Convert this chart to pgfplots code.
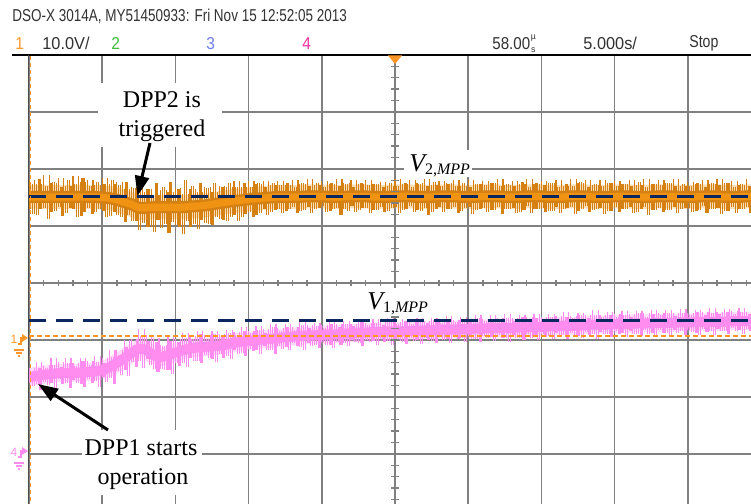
\documentclass[border=0pt]{standalone}
\usepackage{fontspec}
\setmainfont{Liberation Serif}
\newfontfamily\scopefont{Liberation Sans}
\usepackage{pgfplots}
\pgfplotsset{compat=1.18}
\usepackage{pgfplotstable}
\usetikzlibrary{arrows.meta}

\definecolor{chone}{RGB}{240,146,18}
\definecolor{chonedark}{RGB}{212,128,18}
\definecolor{chfour}{RGB}{255,140,238}
\definecolor{mppblue}{RGB}{10,40,95}
\definecolor{gridgray}{RGB}{128,128,128}
\definecolor{hdrgray}{RGB}{50,50,50}
\definecolor{ctwo}{RGB}{60,190,60}
\definecolor{cthree}{RGB}{110,125,235}
\definecolor{cfour}{RGB}{240,50,160}
\definecolor{trigorange}{RGB}{255,150,40}

% channel 1 (V2): time [s], trace centre [div], spike reach above / below [div]
\pgfplotstableread{
t c up dn
-25.0 1.51 0.30 0.22
-24.5 1.51 0.22 0.31
-24.0 1.51 0.38 0.19
-23.5 1.51 0.24 0.27
-23.0 1.51 0.33 0.18
-22.5 1.51 0.20 0.29
-22.0 1.51 0.36 0.22
-21.5 1.51 0.26 0.33
-21.0 1.51 0.30 0.20
-20.5 1.51 0.21 0.27
-20.0 1.50 0.34 0.24
-19.5 1.49 0.25 0.31
-19.0 1.46 0.31 0.26
-18.5 1.42 0.23 0.35
-18.0 1.38 0.30 0.29
-17.5 1.32 0.27 0.39
-17.0 1.32 0.33 0.33
-16.5 1.33 0.22 0.43
-16.0 1.33 0.30 0.36
-15.5 1.33 0.26 0.45
-15.0 1.33 0.34 0.32
-14.5 1.33 0.24 0.47
-14.0 1.34 0.31 0.36
-13.5 1.35 0.25 0.41
-13.0 1.36 0.33 0.30
-12.5 1.38 0.22 0.37
-12.0 1.40 0.30 0.28
-11.5 1.42 0.26 0.34
-11.0 1.44 0.35 0.25
-10.5 1.45 0.24 0.30
-10.0 1.47 0.32 0.22
-9.5 1.48 0.26 0.28
-9.0 1.49 0.30 0.20
-8.5 1.50 0.22 0.26
-8.0 1.51 0.28 0.21
-7.5 1.51 0.21 0.25
-7.0 1.51 0.29 0.18
-6.5 1.51 0.23 0.24
-6.0 1.52 0.30 0.19
-5.5 1.52 0.20 0.23
-5.0 1.52 0.27 0.17
-4.5 1.51 0.22 0.25
-4.0 1.51 0.31 0.19
-3.5 1.51 0.24 0.22
-3.0 1.52 0.28 0.17
-2.5 1.52 0.21 0.24
-2.0 1.52 0.29 0.20
-1.5 1.51 0.23 0.23
-1.0 1.51 0.27 0.18
-0.5 1.51 0.20 0.25
0.0 1.52 0.30 0.19
0.5 1.52 0.22 0.24
1.0 1.52 0.28 0.17
1.5 1.51 0.24 0.23
2.0 1.51 0.31 0.20
2.5 1.51 0.21 0.26
3.0 1.52 0.27 0.18
3.5 1.52 0.23 0.22
4.0 1.52 0.29 0.19
4.5 1.51 0.20 0.25
5.0 1.51 0.30 0.17
5.5 1.51 0.22 0.23
6.0 1.52 0.27 0.20
6.5 1.52 0.24 0.24
7.0 1.52 0.31 0.18
7.5 1.51 0.21 0.22
8.0 1.51 0.28 0.19
8.5 1.51 0.23 0.26
9.0 1.52 0.30 0.17
9.5 1.52 0.22 0.23
10.0 1.52 0.27 0.20
10.5 1.51 0.24 0.24
11.0 1.51 0.29 0.18
11.5 1.51 0.20 0.22
12.0 1.52 0.31 0.19
12.5 1.52 0.23 0.25
13.0 1.52 0.28 0.17
13.5 1.51 0.21 0.23
14.0 1.51 0.30 0.20
14.5 1.51 0.24 0.24
15.0 1.52 0.27 0.18
15.5 1.52 0.22 0.22
16.0 1.52 0.29 0.19
16.5 1.51 0.21 0.26
17.0 1.51 0.31 0.17
17.5 1.51 0.23 0.23
18.0 1.52 0.28 0.20
18.5 1.52 0.24 0.24
19.0 1.52 0.30 0.18
19.5 1.51 0.20 0.22
20.0 1.51 0.27 0.19
20.5 1.51 0.23 0.25
21.0 1.52 0.29 0.17
21.5 1.52 0.22 0.23
22.0 1.52 0.31 0.20
22.5 1.51 0.24 0.24
23.0 1.51 0.28 0.18
23.5 1.51 0.21 0.22
24.0 1.52 0.30 0.19
24.5 1.52 0.23 0.25
25.0 1.52 0.27 0.20
}\chonedata

% channel 4 (V1): time [s], trace centre [div], spike reach above / below [div]
\pgfplotstableread{
t c up dn
-25.0 -1.65 0.16 0.10
-24.5 -1.63 0.24 0.14
-24.0 -1.61 0.18 0.12
-23.5 -1.60 0.28 0.16
-23.0 -1.58 0.20 0.11
-22.5 -1.58 0.26 0.18
-22.0 -1.58 0.17 0.12
-21.5 -1.57 0.25 0.20
-21.0 -1.56 0.19 0.13
-20.5 -1.55 0.27 0.17
-20.0 -1.53 0.21 0.12
-19.5 -1.48 0.30 0.18
-19.0 -1.40 0.22 0.14
-18.5 -1.32 0.32 0.20
-18.0 -1.23 0.24 0.15
-17.5 -1.15 0.34 0.22
-17.0 -1.17 0.26 0.16
-16.5 -1.27 0.30 0.24
-16.0 -1.30 0.22 0.20
-15.5 -1.27 0.32 0.26
-15.0 -1.22 0.24 0.18
-14.5 -1.18 0.30 0.22
-14.0 -1.15 0.22 0.16
-13.5 -1.13 0.28 0.24
-13.0 -1.12 0.20 0.14
-12.5 -1.11 0.27 0.22
-12.0 -1.10 0.21 0.15
-11.5 -1.08 0.26 0.20
-11.0 -1.05 0.19 0.13
-10.5 -1.03 0.25 0.19
-10.0 -1.02 0.18 0.14
-9.5 -1.00 0.24 0.18
-9.0 -0.99 0.19 0.12
-8.5 -0.98 0.26 0.20
-8.0 -0.97 0.18 0.13
-7.5 -0.95 0.23 0.17
-7.0 -0.94 0.17 0.12
-6.5 -0.93 0.24 0.19
-6.0 -0.92 0.18 0.13
-5.5 -0.92 0.22 0.16
-5.0 -0.91 0.17 0.12
-4.5 -0.90 0.24 0.18
-4.0 -0.90 0.18 0.13
-3.5 -0.89 0.22 0.17
-3.0 -0.88 0.16 0.12
-2.5 -0.87 0.23 0.18
-2.0 -0.87 0.17 0.13
-1.5 -0.86 0.22 0.16
-1.0 -0.86 0.18 0.12
-0.5 -0.85 0.24 0.17
0.0 -0.85 0.17 0.13
0.5 -0.85 0.22 0.18
1.0 -0.84 0.18 0.12
1.5 -0.84 0.23 0.16
2.0 -0.83 0.17 0.13
2.5 -0.83 0.22 0.18
3.0 -0.82 0.18 0.12
3.5 -0.82 0.24 0.17
4.0 -0.82 0.17 0.13
4.5 -0.81 0.22 0.16
5.0 -0.81 0.18 0.12
5.5 -0.80 0.23 0.18
6.0 -0.80 0.17 0.13
6.5 -0.79 0.22 0.16
7.0 -0.79 0.18 0.12
7.5 -0.79 0.24 0.17
8.0 -0.79 0.17 0.13
8.5 -0.78 0.22 0.18
9.0 -0.78 0.18 0.12
9.5 -0.77 0.23 0.16
10.0 -0.77 0.17 0.13
10.5 -0.76 0.22 0.17
11.0 -0.76 0.18 0.12
11.5 -0.75 0.24 0.16
12.0 -0.75 0.17 0.13
12.5 -0.75 0.22 0.18
13.0 -0.74 0.18 0.12
13.5 -0.73 0.26 0.16
14.0 -0.73 0.17 0.13
14.5 -0.73 0.22 0.17
15.0 -0.72 0.18 0.12
15.5 -0.72 0.23 0.16
16.0 -0.72 0.17 0.13
16.5 -0.71 0.22 0.18
17.0 -0.71 0.18 0.12
17.5 -0.71 0.24 0.16
18.0 -0.70 0.17 0.13
18.5 -0.70 0.22 0.17
19.0 -0.70 0.18 0.12
19.5 -0.69 0.23 0.16
20.0 -0.69 0.17 0.13
20.5 -0.69 0.22 0.18
21.0 -0.68 0.18 0.12
21.5 -0.68 0.24 0.16
22.0 -0.68 0.17 0.13
22.5 -0.68 0.22 0.17
23.0 -0.67 0.18 0.12
23.5 -0.67 0.23 0.16
24.0 -0.67 0.17 0.13
24.5 -0.67 0.22 0.18
25.0 -0.67 0.18 0.12
}\chfourdata

% noise spikes drawn as vertical bars around the trace centre
\pgfplotsset{
  spikes/.style={draw=none, mark=none, color=#1,
    error bars/.cd, y dir=both, y explicit, error mark=none,
    error bar style={draw=#1, line width=0.6pt}},
}

\begin{document}
\begin{tikzpicture}
\fill[white] (0,0) rectangle (375.5pt,252pt);

\begin{axis}[
  at={(14.5pt,-3.5pt)}, anchor=south west,
  width=366pt, height=228pt, scale only axis,
  xmin=-25, xmax=25, ymin=-4, ymax=4,
  xtick={-25,-20,...,25}, ytick={-4,-3,...,4},
  xticklabels={}, yticklabels={}, major tick length=0pt,
  grid=major, grid style={gridgray, line width=0.8pt},
  axis line style={draw=none},
]
% channel 4 trace: haze, noise spikes, dense core
\addplot[chfour, mark=none, opacity=0.3, line width=9pt, line join=round] table[x=t, y=c] {\chfourdata};
\addplot[spikes=chfour] table[x=t, y=c, y error plus=up, y error minus=dn] {\chfourdata};
\addplot[spikes=chfour] table[x expr=\thisrow{t}+0.25, y=c, y error plus=dn, y error minus=up] {\chfourdata};
\addplot[spikes=chfour] table[x expr=\thisrow{t}+0.125, y=c, y error plus=dn, y error minus=dn] {\chfourdata};
\addplot[spikes=chfour] table[x expr=\thisrow{t}+0.375, y=c, y error plus=up, y error minus=up] {\chfourdata};
\addplot[chfour, mark=none, line width=5pt, line join=round] table[x=t, y=c] {\chfourdata};

% channel 1 trace
\addplot[chone, mark=none, opacity=0.3, line width=12pt, line join=round] table[x=t, y=c] {\chonedata};
\addplot[spikes=chonedark] table[x=t, y=c, y error plus=up, y error minus=dn] {\chonedata};
\addplot[spikes=chonedark] table[x expr=\thisrow{t}+0.25, y=c, y error plus=dn, y error minus=up] {\chonedata};
\addplot[spikes=chonedark] table[x expr=\thisrow{t}+0.125, y=c, y error plus=dn, y error minus=dn] {\chonedata};
\addplot[spikes=chonedark] table[x expr=\thisrow{t}+0.375, y=c, y error plus=up, y error minus=up] {\chonedata};
\addplot[chonedark, mark=none, line width=6pt, line join=round] table[x=t, y=c] {\chonedata};
\addplot[chone, mark=none, line width=3.6pt, line join=round] table[x=t, y=c] {\chonedata};

% trigger level
\addplot[trigorange, mark=none, line width=0.6pt, dash pattern=on 2.5pt off 1.5pt] coordinates {(-25,-0.93) (25,-0.93)};
% MPP reference levels
\addplot[mppblue, mark=none, line width=1.5pt, dash pattern=on 8.5pt off 5pt] coordinates {(-25,1.518) (25,1.518)};
\addplot[mppblue, mark=none, line width=1.5pt, dash pattern=on 8.5pt off 5pt] coordinates {(-25,-0.661) (25,-0.661)};
\end{axis}

% screen furniture, in pixel-like units (y downwards)
\begin{scope}[shift={(0pt,252pt)}, x=0.5pt, y=-0.5pt]
  % centre-line subdivisions
  \foreach \k in {-25,...,25} \draw[gridgray, line width=0.7pt] ({395+14.64*\k},280) -- ({395+14.64*\k},286);
  \foreach \k in {-20,...,20} \draw[gridgray, line width=0.7pt] (391,{283+11.4*\k}) -- (399,{283+11.4*\k});
  % frame
  \draw[black, line width=0.9pt] (12,55) -- (760,55);
  \draw[black!70, line width=0.9pt] (28.5,55) -- (28.5,515);
  \draw[trigorange, line width=0.8pt, dash pattern=on 2pt off 1.5pt] (30.5,56) -- (30.5,515);
  % trigger position
  \fill[trigorange] (388,55.5) -- (402,55.5) -- (395,64) -- cycle;

  % header
  \node[anchor=west, inner sep=0, text=hdrgray, font=\scopefont\fontsize{8.6}{9}\selectfont] at (12,16.5)
    {\scalebox{0.785}[1]{DSO-X 3014A, MY51450933: Fri Nov 15 12:52:05 2013}};
  \begin{scope}[every node/.style={anchor=west, inner sep=0, font=\scopefont\fontsize{8.6}{9}\selectfont}]
    \node[text=trigorange] at (15,43.5) {\scalebox{0.9}[1]{1}};
    \node[text=hdrgray] at (42,43.5) {\scalebox{0.95}[1]{10.0V/}};
    \node[text=ctwo] at (111,43.5) {\scalebox{0.9}[1]{2}};
    \node[text=cthree] at (206,43.5) {\scalebox{0.9}[1]{3}};
    \node[text=cfour] at (302,43.5) {\scalebox{0.9}[1]{4}};
    \node[text=hdrgray] at (492,43.5) {\scalebox{0.88}[1]{58.00}\kern0.3pt\raisebox{-1.3pt}{\fontsize{4.4}{3.6}\selectfont\shortstack{µ\\s}}};
    \node[text=hdrgray] at (583,43.5) {\scalebox{0.95}[1]{5.000s/}};
    \node[text=hdrgray] at (689,43.5) {\scalebox{0.82}[1]{Stop}};
  \end{scope}

  % ground markers
  \node[text=trigorange, inner sep=0, font=\scopefont\fontsize{6}{6}\selectfont] at (14,339) {1};
  \draw[trigorange, line width=0.6pt] (18,344) -- (21,344) -- (21,338) -- (23,338);
  \fill[trigorange] (22,334) -- (28,338) -- (22,342) -- cycle;
  \draw[trigorange, line width=0.6pt] (14,350) -- (24,350) (16,353) -- (22,353) (18,356) -- (20,356);
  \node[text=chfour, inner sep=0, font=\scopefont\fontsize{6}{6}\selectfont] at (14,452) {4};
  \draw[chfour, line width=0.6pt] (18,457) -- (21,457) -- (21,451) -- (23,451);
  \fill[chfour] (22,447) -- (28,451) -- (22,455) -- cycle;
  \draw[chfour, line width=0.6pt] (14,463) -- (24,463) (16,466) -- (22,466) (18,469) -- (20,469);

  % annotations
  \fill[white] (98,83) rectangle (222,147);
  \node[anchor=base, inner sep=0, font=\fontsize{12}{14}\selectfont] at (162,108) {DPP2 is};
  \node[anchor=base, inner sep=0, font=\fontsize{12}{14}\selectfont] at (162,137) {triggered};
  \draw[black, line width=1.5pt, -{Triangle[length=10pt,width=7pt]}] (150,143) -- (137.5,196);

  \fill[white] (82,430) rectangle (202,495);
  \node[anchor=base, inner sep=0, font=\fontsize{12}{14}\selectfont] at (141,456) {DPP1 starts};
  \node[anchor=base, inner sep=0, font=\fontsize{12}{14}\selectfont] at (143,485) {operation};
  \draw[black, line width=1.5pt, -{Triangle[length=10pt,width=7pt]}] (108,430) -- (38,384);

  \fill[white] (404,150) rectangle (472,177);
  \node[anchor=base west, inner sep=0, font=\fontsize{12.8}{14}\selectfont] at (409,172)
    {\itshape V\raisebox{-1.2pt}{\fontsize{8}{9}\selectfont\upshape 2,\itshape MPP}};
  \fill[white] (364,288) rectangle (428,316);
  \node[anchor=base west, inner sep=0, font=\fontsize{12.8}{14}\selectfont] at (367,310)
    {\itshape V\raisebox{-1.2pt}{\fontsize{8}{9}\selectfont\upshape 1,\itshape MPP}};
\end{scope}

\pgfresetboundingbox
\path[use as bounding box] (0,0) rectangle (375.5pt,252pt);
\end{tikzpicture}
\end{document}
